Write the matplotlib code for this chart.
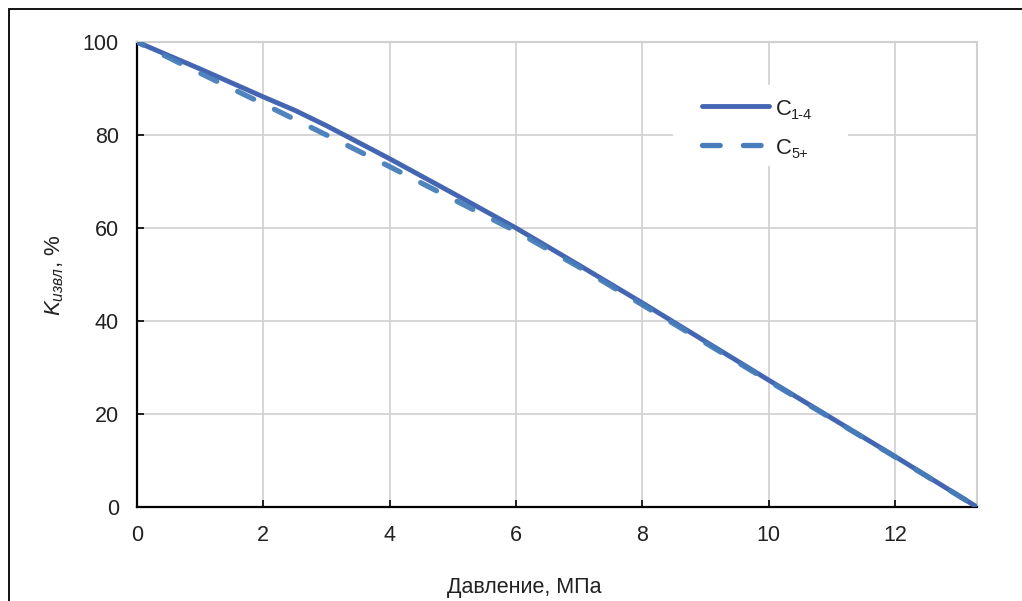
import matplotlib
matplotlib.use("Agg")
import matplotlib.pyplot as plt
from matplotlib.patches import Rectangle
from matplotlib.lines import Line2D

plt.rcParams['font.family'] = ['Liberation Sans', 'DejaVu Sans']
plt.rcParams['mathtext.fontset'] = 'custom'
plt.rcParams['mathtext.rm'] = 'Liberation Sans'
plt.rcParams['mathtext.it'] = 'Liberation Sans:italic'

# data
x_c14 = [0, 1, 2, 2.5, 3, 4, 5, 6, 7, 8, 9, 10, 11, 12, 13.3]
y_c14 = [100, 94.2, 88.2, 85.3, 82.0, 74.9, 67.5, 60.0, 52.0, 43.9, 35.6, 27.3, 19.1, 10.9, 0]
x_c5 = [0, 1, 2, 3, 4, 5, 6, 7, 8, 9, 10, 11, 12, 13.3]
y_c5 = [100, 93.3, 86.7, 80.0, 73.2, 66.2, 59.3, 51.6, 43.5, 35.3, 27.1, 19.0, 10.8, 0]
series_main = ['C', 'C']
series_sub = ['1-4', '5+']
x_ticks = [0, 2, 4, 6, 8, 10, 12]
y_ticks = [0, 20, 40, 60, 80, 100]
x_label = 'Давление, МПа'
y_label = '$K_{извл}$, %'

W, H = 1022, 601
fig = plt.figure(figsize=(W / 100, H / 100), dpi=100)
ax = fig.add_axes([137 / W, 1 - 507 / H, (977 - 137) / W, (507 - 42) / H])

c_solid = '#4466B2'
c_dash = '#467DBA'
grid_c = '#D0D0D0'
txt_c = '#222222'
dash_style = (2.0, (3.35, 4.4))

ax.plot(x_c14, y_c14, color=c_solid, lw=3.5, solid_capstyle='round', solid_joinstyle='round',
        zorder=3)
ax.plot(x_c5, y_c5, color=c_dash, lw=3.8, dash_capstyle='round', dash_joinstyle='round',
        linestyle=dash_style, zorder=4, alpha=0.95)

ax.set_xlim(0, 13.3)
ax.set_ylim(0, 100)
ax.set_xticks(x_ticks)
ax.set_yticks(y_ticks)
ax.grid(True, color=grid_c, lw=1.2)
ax.set_axisbelow(True)
for s in ['top', 'right']:
    ax.spines[s].set_color(grid_c)
    ax.spines[s].set_linewidth(1.5)
for s in ['left', 'bottom']:
    ax.spines[s].set_color('black')
    ax.spines[s].set_linewidth(1.6)
ax.tick_params(direction='in', length=5, width=1.2, color='black', labelsize=15.5,
               labelcolor=txt_c)
ax.tick_params(axis='x', pad=13)
ax.tick_params(axis='y', pad=13)

# legend (manual, in figure pixel coordinates)
def fx(px):
    return px / W

def fy(py):
    return 1 - py / H

fig.patches.append(Rectangle((fx(673), fy(166)), (848 - 673) / W, (166 - 85) / H,
                             transform=fig.transFigure, facecolor='white', edgecolor='none',
                             zorder=5))
fig.lines.append(Line2D([fx(701.5), fx(768.5)], [fy(105.5), fy(105.5)], transform=fig.transFigure,
                        color=c_solid, lw=3.5, solid_capstyle='round', zorder=6))
fig.lines.append(Line2D([fx(701.6), fx(761)], [fy(144.5), fy(144.5)], transform=fig.transFigure,
                        color=c_dash, lw=3.8, dash_capstyle='round',
                        linestyle=(0, (3.35, 4.4)), zorder=6))
for i, yb in enumerate([115, 153.5]):
    fig.text(fx(776), fy(yb), series_main[i], fontsize=15.8, color=txt_c, va='baseline',
             ha='left', zorder=7)
    fig.text(fx(791), fy(yb + 4), series_sub[i], fontsize=10.5, color=txt_c, va='baseline',
             ha='left', zorder=7)

fig.text(fx(524), fy(588), x_label, ha='center', va='center', fontsize=15.5, color=txt_c)
fig.text(fx(55), fy(275), y_label, ha='center', va='center', rotation=90, fontsize=16,
         color=txt_c)

fig.patches.append(Rectangle((8.5 / W, -0.05), 1.1, 1 - 9.5 / H + 0.05, transform=fig.transFigure,
                             fill=False, edgecolor='black', lw=1.3))

fig.savefig('out.png', dpi=100)
